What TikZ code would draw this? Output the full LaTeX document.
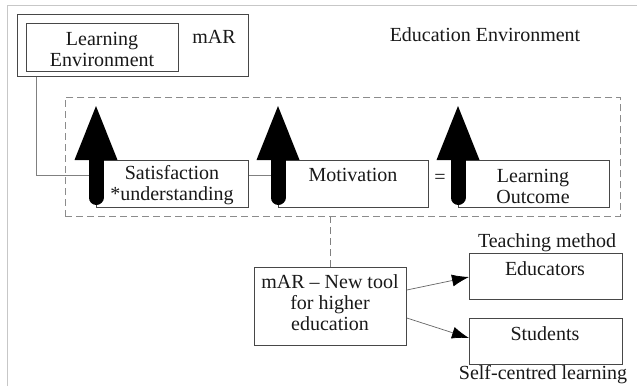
\documentclass[tikz,border=0pt]{standalone}
\usepackage{fontspec}
\setmainfont{Liberation Serif}
\usetikzlibrary{arrows.meta,calc}
\begin{document}
\begin{tikzpicture}[x=1pt,y=-1pt,
  box/.style={draw=black!72,line width=0.8pt,fill=white,inner sep=0pt,anchor=north west},
  dbox/.style={draw=black!45,line width=0.8pt,dash pattern=on 7pt off 4pt,inner sep=0pt,anchor=north west},
  txt/.style={font=\fontsize{20}{21}\selectfont,align=center,inner sep=0pt,text=black!90},
  conn/.style={draw=black!50,line width=0.7pt},
  tipline/.style={draw=black!60,line width=0.7pt,-{Latex[length=17pt,width=12pt,color=black]}},
  barrow/.pic={
    \draw[line width=15pt,line cap=round] (0,-1) -- (0,37.5);
    \fill (-21.5,0) -- (21.5,0) -- (0,-54) -- cycle;
  }
]
\useasboundingbox (0,0) rectangle (637,386);
\fill[white] (0,0) rectangle (637,386);
% frame
\draw[black!22,line width=1pt] (7,386) -- (7,5) -- (637,5);

% boxes
\node[box,minimum width=231pt,minimum height=62pt] (mar) at (17,14) {};
\node[box,minimum width=152pt,minimum height=48pt] (le) at (26,23) {};
\node[dbox,minimum width=555pt,minimum height=119pt] (dash) at (65,97) {};
\node[box,minimum width=152pt,minimum height=47pt] (sat) at (96,160) {};
\node[box,minimum width=150pt,minimum height=47pt] (mot) at (278,160) {};
\node[box,minimum width=151pt,minimum height=47pt] (out) at (458,160) {};
\node[box,minimum width=152pt,minimum height=78pt] (tool) at (254,267) {};
\node[box,minimum width=153pt,minimum height=46pt] (edu) at (469,253) {};
\node[box,minimum width=153pt,minimum height=46pt] (stu) at (469,318) {};

% connectors
\draw[conn] ($(mar.south west)+(19,0)$) |- ($(sat.north west)+(0,15)$);
\draw[conn] ($(sat.north east)+(0,15)$) -- ($(mot.north west)+(0,15)$);
\draw[draw=black!50,line width=0.8pt,dash pattern=on 7pt off 4pt] (tool.north) -- (tool.north |- dash.south);
\draw[tipline] ($(tool.north east)+(0,23)$) -- ($(edu.north west)+(0,24)$);
\draw[tipline] ($(tool.north east)+(0,51)$) -- ($(stu.north west)+(0,20)$);

% texts
\node[txt] (tmar) at (214,37) {mAR};
\node[txt] (tenv) at (485,35) {Education Environment};
\node[txt] (tle) at (102,49) {Learning\\Environment};
\node[txt] (tsat) at (172,185.5) {Satisfaction\\*understanding};
\node[txt] (tmot) at (353,175) {Motivation};
\node[txt] (tout) at (533,186) {Learning\\Outcome};
\node[txt] (teq) at (440,179) {=};
\node[txt] (ttool) at (330,303) {mAR -- New tool\\for higher\\education};
\node[txt] (tedu) at (545,269) {Educators};
\node[txt] (tstu) at (545,334) {Students};
\node[txt] (tteach) at (547,243) {Teaching method};
\node[txt] (tself) at (543,375) {Self-centred learning};

% block arrows
\pic at (sat.north west) {barrow};
\pic at (mot.north west) {barrow};
\pic at (out.north west) {barrow};
\end{tikzpicture}
\end{document}
